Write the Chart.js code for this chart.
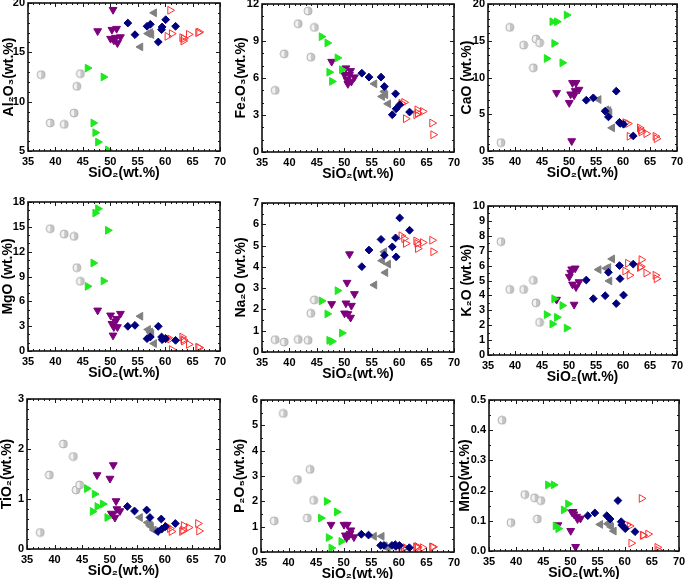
<!DOCTYPE html>
<html>
<head>
<meta charset="utf-8">
<script src="https://cdn.jsdelivr.net/npm/chart.js@4.4.1/dist/chart.umd.min.js"></script>
<style>
html,body{margin:0;padding:0;background:#fff;overflow:hidden;width:685px;height:579px;position:relative}
canvas{position:absolute}
</style>
</head>
<body>
<script>
// ---------------- DATA (wt.%) ----------------
const groups = ['gray', 'green', 'purple', 'navy', 'grayTri', 'red'];

const SiO2 = {
  gray:    [37.4, 39.05, 41.6, 43.4, 43.9, 44.55],
  green:   [45.85, 46.9, 47.25, 47.75, 48.75, 49.55],
  purple:  [47.7, 50.05, 50.3, 50.5, 50.65, 50.95, 51.15, 51.3, 51.85],
  navy:    [53.2, 54.5, 56.7, 57.3, 58.75, 59.35, 59.45, 60.1, 61.9],
  grayTri: [55.5, 56.9, 57.3, 57.5, 58.0],
  red:     [60.4, 60.9, 61.2, 63.1, 63.3, 63.4, 64.3, 66.0, 66.2]
};
const Al2O3 = {
  gray:    [12.74, 7.84, 7.7, 8.85, 11.55, 12.84],
  green:   [13.4, 7.84, 6.86, 5.9, 12.5, 5.1],
  purple:  [17.16, 16.39, 17.3, 19.32, 16.22, 16.49, 17.4, 15.95, 16.55],
  navy:    [17.97, 16.79, 17.64, 17.84, 16.05, 17.3, 17.57, 18.31, 17.64],
  grayTri: [15.55, 16.9, 17.0, 16.8, 19.0],
  red:     [16.62, 19.26, 16.89, 16.49, 16.15, 16.39, 16.82, 16.99, 17.06]
};
const Fe2O3 = {
  gray:    [5.0, 7.96, 10.4, 11.43, 7.69, 10.1],
  green:   [9.35, 8.84, 6.47, 5.72, 7.63, 6.67],
  purple:  [7.33, 6.26, 6.8, 5.85, 5.53, 6.26, 6.58, 5.72, 6.07],
  navy:    [6.39, 6.07, 6.07, 5.31, 3.02, 4.72, 3.5, 3.83, 3.24],
  grayTri: [5.53, 4.5, 4.9, 4.64, 3.91],
  red:     [3.95, 4.02, 2.7, 3.02, 3.42, 3.15, 3.29, 2.35, 1.4]
};
const CaO = {
  gray:    [1.14, 16.82, 14.41, 11.32, 15.23, 14.73],
  green:   [12.59, 17.59, 14.64, 17.59, 12.0, 18.5],
  purple:  [7.91, 6.55, 7.73, 1.36, 9.27, 7.59, 8.18, 9.27, 8.36],
  navy:    [6.91, 7.23, 5.41, 4.64, 8.14, 3.9, 3.75, 3.64, 2.05],
  grayTri: [7.0, 5.6, 5.5, 5.2, 3.15],
  red:     [3.86, 3.73, 2.0, 3.14, 2.82, 2.59, 2.36, 2.0, 1.68]
};
const MgO = {
  gray:    [null, 14.78, 14.13, 13.85, 10.07, 8.42],
  green:   [7.81, 10.63, 16.67, 17.19, 8.46, 14.58],
  purple:  [4.91, 4.31, 3.3, 1.89, 2.9, 3.58, 3.9, 2.9, 4.51],
  navy:    [2.98, 3.1, 1.49, 1.69, 2.98, 1.69, 1.37, 1.49, 1.29],
  grayTri: [4.2, 2.6, 2.3, 2.1, 0.9],
  red:     [1.5, 1.45, 0.16, 1.69, 1.37, 1.21, 0.8, 0.45, 0.4]
};
const Na2O = {
  gray:    [0.58, 0.47, 0.59, 0.55, 1.82, 2.45],
  green:   [2.4, 1.79, 0.55, 0.5, 2.88, 0.89],
  purple:  [2.26, 1.82, 2.29, 3.26, 1.79, 4.6, 1.62, 2.18, 2.73],
  navy:    [4.01, 4.79, 5.29, 4.55, 4.94, 5.36, 4.47, 6.3, 5.72],
  grayTri: [3.15, 4.29, 4.71, 3.73, 4.13],
  red:     [5.46, 5.33, 5.1, 5.22, 5.1, 4.86, 5.14, 5.25, 4.71]
};
const K2O = {
  gray:    [7.61, 4.4, 4.4, 5.01, 3.5, 2.19],
  green:   [2.71, 2.08, 3.77, 2.53, 3.32, 1.81],
  purple:  [3.72, 5.26, 5.53, 5.76, 4.74, 3.39, 5.82, 4.56, 4.9],
  navy:    [5.03, 3.78, 3.98, 5.55, 3.45, 6.0, 5.12, 4.02, 6.1],
  grayTri: [5.73, 5.82, 5.87, 4.97, 6.45],
  red:     [5.64, 6.16, 5.35, 5.87, 5.94, 6.4, 5.5, 5.35, 5.12]
};
const TiO2 = {
  gray:    [0.33, 1.48, 2.1, 1.85, 1.18, 1.28],
  green:   [1.21, 0.75, 1.1, 0.85, 0.9, 0.63],
  purple:  [1.48, 1.41, 0.71, 0.69, 1.68, 0.63, 0.96, 0.8, 0.76],
  navy:    [0.85, 0.76, 0.78, 0.63, 0.35, 0.6, 0.4, 0.45, 0.51],
  grayTri: [0.63, 0.53, 0.48, 0.45, 0.38],
  red:     [0.45, 0.41, 0.35, 0.35, 0.38, 0.47, 0.43, 0.51, 0.36]
};
const P2O5 = {
  gray:    [1.23, 5.47, 2.86, 1.34, 3.26, 2.04],
  green:   [1.34, 2.0, 0.57, 0.16, 1.58, 0.42],
  purple:  [1.08, 1.08, 0.66, 0.55, 1.08, 0.66, 0.73, 0.86, 0.59],
  navy:    [0.7, 0.67, 0.26, 0.26, 0.26, 0.29, 0.22, 0.26, 0.17],
  grayTri: [0.62, 0.62, 0.25, 0.22, 0.16],
  red:     [0.2, 0.17, 0.17, 0.2, 0.22, 0.17, 0.17, 0.2, 0.2]
};
const MnO = {
  gray:    [0.433, 0.094, 0.187, 0.176, 0.106, 0.167],
  green:   [0.219, 0.219, 0.083, 0.074, 0.136, 0.156],
  purple:  [0.086, 0.067, 0.128, 0.13, 0.122, 0.014, 0.114, 0.106, 0.108],
  navy:    [0.117, 0.126, 0.117, 0.106, 0.167, 0.097, 0.086, 0.074, 0.064],
  grayTri: [0.088, 0.09, 0.095, 0.08, 0.066],
  red:     [0.086, 0.083, 0.026, 0.174, 0.052, 0.052, 0.056, 0.012, 0.002]
};

const xTicks = {min: 35, max: 70, step: 5};
const xTitle = 'SiO₂(wt.%)';

// ---------------- LAYOUT / STYLE ----------------
const PANELS = [
  {data: Al2O3, title: 'Al₂O₃(wt.%)', min: 5, max: 20, step: 5, minor: 1,   box: [28, 3, 220, 151],   yw: 28, tp: 1},
  {data: Fe2O3, title: 'Fe₂O₃(wt.%)', min: 0, max: 12, step: 3, minor: 1,   box: [262, 4, 454, 152],  yw: 30, tp: 1},
  {data: CaO,   title: 'CaO (wt.%)',  min: 0, max: 20, step: 5, minor: 1,   box: [488, 4, 677, 151],  yw: 30, tp: 1},
  {data: MgO,   title: 'MgO (wt.%)',  min: 0, max: 18, step: 3, minor: 1,   box: [28, 202, 220, 351], yw: 28, tp: 0},
  {data: Na2O,  title: 'Na₂O (wt.%)', min: 0, max: 7,  step: 1, minor: 0.5, box: [262, 203, 454, 352], yw: 30, tp: 1},
  {data: K2O,   title: 'K₂O (wt.%)',  min: 0, max: 10, step: 1, minor: 0.5, box: [488, 206, 677, 355], yw: 30, tp: 1},
  {data: TiO2,  title: 'TiO₂(wt.%)',  min: 0, max: 3,  step: 1, minor: 0.2, box: [27, 399, 220, 549], yw: 28, tp: 0},
  {data: P2O5,  title: 'P₂O₅(wt.%)',  min: 0, max: 6,  step: 1, minor: 0.5, box: [261, 400, 454, 552], yw: 30, tp: 1},
  {data: MnO,   title: 'MnO(wt.%)',   min: 0, max: 0.5, step: 0.1, minor: 0.05, box: [489, 400, 679, 551], yw: 32, tp: 0, dec: 1}
];

function halfCircle() {
  const c = document.createElement('canvas');
  c.width = 10; c.height = 10;
  const g = c.getContext('2d');
  g.beginPath(); g.arc(5, 5, 4, 0, 2 * Math.PI); g.fillStyle = '#c6c6c6'; g.fill();
  g.beginPath(); g.moveTo(5, 1); g.arc(5, 5, 4, Math.PI * 1.5, Math.PI / 2, true); g.closePath();
  g.fillStyle = '#f3f3f3'; g.fill();
  g.beginPath(); g.arc(5, 5, 4, 0, 2 * Math.PI); g.strokeStyle = '#b0b0b0'; g.lineWidth = 1; g.stroke();
  return c;
}
const HC = halfCircle();

const STYLE = {
  gray:    {pointStyle: HC, rotation: 0, radius: 5, backgroundColor: '#c6c6c6', borderColor: '#b0b0b0', borderWidth: 0},
  green:   {pointStyle: 'triangle', rotation: 90,  radius: 4.5, backgroundColor: '#1ee81e', borderColor: '#1ee81e', borderWidth: 1},
  purple:  {pointStyle: 'triangle', rotation: 180, radius: 4.5, backgroundColor: '#7d007d', borderColor: '#7d007d', borderWidth: 1},
  navy:    {pointStyle: 'rectRot',  rotation: 0,   radius: 3.9, backgroundColor: '#00007c', borderColor: '#00007c', borderWidth: 1},
  grayTri: {pointStyle: 'triangle', rotation: 270, radius: 4.5, backgroundColor: '#808080', borderColor: '#808080', borderWidth: 1},
  red:     {pointStyle: 'triangle', rotation: 90,  radius: 4.5, backgroundColor: 'rgba(255,255,255,0)', borderColor: '#ff2e2e', borderWidth: 1}
};

const FONT = "'Liberation Sans', Arial, 'DejaVu Sans', sans-serif";

// frame with inward major/minor ticks on all four sides
function drawFrame(chart, o) {
  const ctx = chart.ctx;
  const a = chart.chartArea;
  const x = chart.scales.x, y = chart.scales.y;
  ctx.save();
  ctx.strokeStyle = '#1a1a1a';
  ctx.lineWidth = 1;
  ctx.beginPath();
  const isMajor = (v, step) => Math.abs(v / step - Math.round(v / step)) < 1e-6;
  const nx = Math.round((o.xMax - o.xMin) / o.xMinor);
  for (let i = 0; i <= nx; i++) {
    const v = o.xMin + i * o.xMinor;
    const px = Math.round(x.getPixelForValue(v)) + 0.5;
    const L = isMajor(v, o.xMajor) ? 4 : 2;
    ctx.moveTo(px, a.bottom); ctx.lineTo(px, a.bottom - L);
    ctx.moveTo(px, a.top); ctx.lineTo(px, a.top + L);
  }
  const ny = Math.round((o.yMax - o.yMin) / o.yMinor);
  for (let i = 0; i <= ny; i++) {
    const v = o.yMin + i * o.yMinor;
    const py = Math.round(y.getPixelForValue(v)) + 0.5;
    const L = isMajor(v, o.yMajor) ? 4 : 2;
    ctx.moveTo(a.left, py); ctx.lineTo(a.left + L, py);
    ctx.moveTo(a.right, py); ctx.lineTo(a.right - L, py);
  }
  ctx.stroke();
  ctx.lineWidth = 1.6;
  ctx.strokeStyle = '#111';
  ctx.strokeRect(a.left, a.top, a.right - a.left, a.bottom - a.top);
  ctx.restore();
}

const PT = 8, PR = 8, XH = 31;
const noPad = s => { s.paddingTop = 0; s.paddingBottom = 0; s.paddingLeft = 0; s.paddingRight = 0; };

PANELS.forEach(p => {
  const [L, T, R, B] = p.box;
  const cw = p.yw + (R - L) + PR;
  const ch = PT + (B - T) + XH;
  const cv = document.createElement('canvas');
  cv.width = cw; cv.height = ch;
  cv.style.left = (L - p.yw) + 'px';
  cv.style.top = (T - PT) + 'px';
  cv.style.width = cw + 'px';
  cv.style.height = ch + 'px';
  document.body.appendChild(cv);

  const datasets = groups.map(g => ({
    label: g,
    data: SiO2[g].map((sx, i) => ({x: sx, y: p.data[g][i]})).filter(d => d.y !== null),
    pointStyle: STYLE[g].pointStyle,
    pointRotation: STYLE[g].rotation,
    pointRadius: STYLE[g].radius,
    pointBackgroundColor: STYLE[g].backgroundColor,
    pointBorderColor: STYLE[g].borderColor,
    pointBorderWidth: STYLE[g].borderWidth
  }));

  const frameOpts = {xMin: xTicks.min, xMax: xTicks.max, xMajor: xTicks.step, xMinor: 1,
                     yMin: p.min, yMax: p.max, yMajor: p.step, yMinor: p.minor};

  new Chart(cv, {
    type: 'scatter',
    data: {datasets},
    options: {
      responsive: false,
      animation: false,
      layout: {padding: {top: PT, right: PR, left: 0, bottom: 0}},
      plugins: {
        legend: {display: false},
        tooltip: {enabled: false}
      },
      scales: {
        x: {
          type: 'linear', min: xTicks.min, max: xTicks.max,
          grid: {display: false, drawTicks: false}, border: {display: false},
          ticks: {stepSize: xTicks.step, autoSkip: false, maxRotation: 0, padding: 4, color: '#000',
                  font: {family: FONT, size: 11, weight: 'bold'}},
          title: {display: true, text: xTitle, color: '#000', padding: {top: 0, bottom: 0},
                  font: {family: FONT, size: 14, weight: 'bold'}},
          afterFit(s) { s.height = XH; noPad(s); }
        },
        y: {
          type: 'linear', min: p.min, max: p.max,
          grid: {display: false, drawTicks: false}, border: {display: false},
          ticks: {stepSize: p.step, autoSkip: false, padding: 3, color: '#000',
                  font: {family: FONT, size: 11, weight: 'bold'},
                  callback: v => p.dec ? Number(v).toFixed(p.dec) : String(Math.round(v * 1000) / 1000)},
          title: {display: true, text: p.title, color: '#000', padding: {top: p.tp, bottom: 0},
                  font: {family: FONT, size: 14, weight: 'bold'}},
          afterFit(s) { s.width = p.yw; noPad(s); }
        }
      }
    },
    plugins: [{
      id: 'frameTicks',
      afterDraw(chart) { drawFrame(chart, frameOpts); }
    }]
  });
});
</script>
</body>
</html>
